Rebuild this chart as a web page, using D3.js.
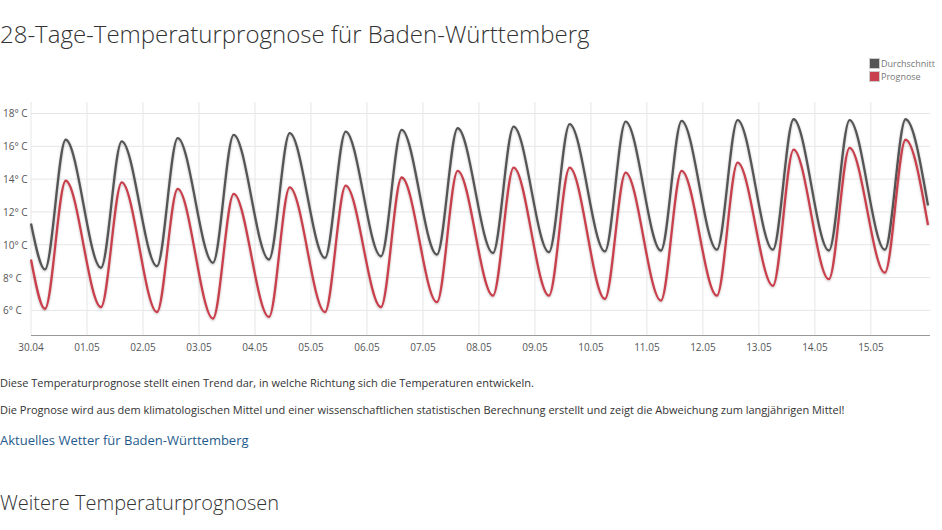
<!DOCTYPE html>
<html><head><meta charset="utf-8">
<script src="https://cdn.jsdelivr.net/npm/d3@7"></script>
<style>
body{margin:0;background:#fff;font-family:"Open Sans",sans-serif;color:#333;}
svg{display:block}
</style></head><body>
<svg id="c" width="942" height="530"></svg>
<script>
const days=["30.04","01.05","02.05","03.05","04.05","05.05","06.05","07.05","08.05","09.05","10.05","11.05","12.05","13.05","14.05","15.05"];
const avgMin=[8.5,8.6,8.7,8.9,9.1,9.2,9.3,9.4,9.5,9.55,9.6,9.65,9.7,9.7,9.65,9.7];
const avgMax=[16.4,16.3,16.5,16.7,16.8,16.9,17.0,17.1,17.2,17.35,17.5,17.55,17.6,17.65,17.6,17.65];
const progMin=[6.1,6.2,5.9,5.5,5.6,5.9,6.2,6.5,6.9,6.9,6.7,6.6,6.9,7.5,7.9,8.3];
const progMax=[13.9,13.8,13.4,13.1,13.5,13.6,14.1,14.5,14.7,14.7,14.4,14.5,15.0,15.8,15.9,16.4];
const avgStart=11.3, avgEnd=12.4, progStart=9.1, progEnd=11.2;
const yTicks=[6,8,10,12,14,16,18];

const svg=d3.select("#c");
const x=d3.scaleLinear().domain([0,16.02]).range([31,928]);
const y=d3.scaleLinear().domain([4.5,18.7]).range([335,102]);

function series(mn,mx,s,e){
  const p=[[0,s]];
  mn.forEach((v,i)=>{p.push([i+0.25,v]);p.push([i+0.62,mx[i]]);});
  p.push([16.02,e]);return p;
}
svg.append("text").attr("x",0).attr("y",43).attr("font-size",24).attr("font-weight",300).attr("fill","#333").text("28-Tage-Temperaturprognose für Baden-Württemberg");

const g=svg.append("g");
g.selectAll(".hg").data(yTicks).join("line").attr("x1",31).attr("x2",930).attr("y1",d=>y(d)).attr("y2",d=>y(d)).attr("stroke","#e6e6e6");
g.selectAll(".vg").data(days).join("line").attr("x1",(d,i)=>x(i)).attr("x2",(d,i)=>x(i)).attr("y1",102).attr("y2",335).attr("stroke","#e6e6e6");
g.append("line").attr("x1",31).attr("x2",930).attr("y1",335.5).attr("y2",335.5).attr("stroke","#999");
g.selectAll(".yl").data(yTicks).join("text").attr("x",3).attr("y",d=>y(d)+4).attr("font-size",10).attr("fill","#555").text(d=>d+"° C");
g.selectAll(".xl").data(days).join("text").attr("x",(d,i)=>x(i)).attr("y",351).attr("text-anchor","middle").attr("font-size",10).attr("fill","#555").text(d=>d);

const line=d3.line().x(d=>x(d[0])).y(d=>y(d[1])).curve(d3.curveMonotoneX);
const defs=svg.append("defs");
defs.append("filter").attr("id","sh").append("feDropShadow").attr("dx",0).attr("dy",1).attr("stdDeviation",1).attr("flood-opacity",0.25);
[[series(avgMin,avgMax,avgStart,avgEnd),"#555"],[series(progMin,progMax,progStart,progEnd),"#c9414e"]].forEach(([d,c])=>{
  svg.append("path").attr("d",line(d)).attr("fill","none").attr("stroke",c).attr("stroke-width",2.3).attr("filter","url(#sh)");
});

const leg=[["Durchschnitt","#555"],["Prognose","#c9414e"]];
leg.forEach((l,i)=>{
  svg.append("rect").attr("x",869.5).attr("y",58.5+i*13).attr("width",10).attr("height",10).attr("fill",l[1]).attr("stroke","#ccc");
  svg.append("text").attr("x",881).attr("y",67+i*13).attr("font-size",9).attr("fill","#777").text(l[0]);
});

svg.append("text").attr("x",0).attr("y",387).attr("font-size",11).attr("fill","#333").text("Diese Temperaturprognose stellt einen Trend dar, in welche Richtung sich die Temperaturen entwickeln.");
svg.append("text").attr("x",0).attr("y",414).attr("font-size",11).attr("fill","#333").text("Die Prognose wird aus dem klimatologischen Mittel und einer wissenschaftlichen statistischen Berechnung erstellt und zeigt die Abweichung zum langjährigen Mittel!");
svg.append("text").attr("x",0).attr("y",445).attr("font-size",13).attr("fill","#1f5b8c").text("Aktuelles Wetter für Baden-Württemberg");
svg.append("text").attr("x",0).attr("y",510).attr("font-size",20).attr("font-weight",300).attr("fill","#333").text("Weitere Temperaturprognosen");
</script></body></html>
